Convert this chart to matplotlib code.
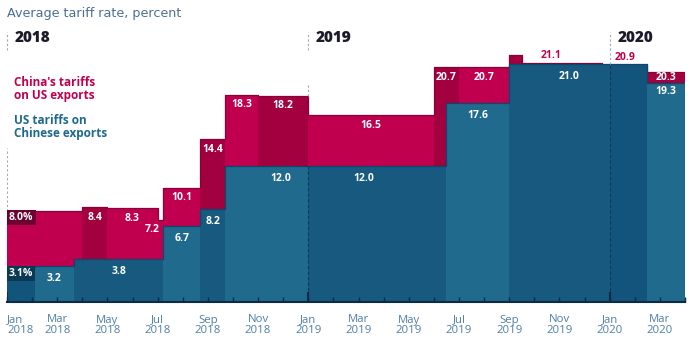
import matplotlib
matplotlib.use('Agg')
import matplotlib.pyplot as plt

# colours
PINK = ['#c0004f', '#a2003f']
BLUE = ['#17597f', '#1f6a8d', '#13547d']
NAVY = '#0d2b45'
TICK_C = '#4f7ea9'

plt.rcParams['font.family'] = ['Open Sans', 'DejaVu Sans']

# months since Jan 2018
END = 27
tick_pos = list(range(0, 27, 2))
tick_labels = ['Jan\n2018', 'Mar\n2018', 'May\n2018', 'Jul\n2018', 'Sep\n2018', 'Nov\n2018',
               'Jan\n2019', 'Mar\n2019', 'May\n2019', 'Jul\n2019', 'Sep\n2019', 'Nov\n2019',
               'Jan\n2020', 'Mar\n2020']
years = ['2018', '2019', '2020']
year_pos = [0, 12, 24]

# China's tariffs on US exports
china_start = [0, 3, 4, 6, 6.22, 7.7, 8.7, 10, 12, 17, 18, 20, 20.5, 23.7, 25.5]
china_rate = [8.0, 8.4, 8.3, 7.2, 10.1, 14.4, 18.3, 18.2, 16.5, 20.7, 20.7, 21.8, 21.1, 20.9, 20.3]
china_tone = [0, 1, 0, 0, 0, 1, 0, 1, 0, 1, 0, 1, 1, 0, 1]
china_text = ['8.0%', '8.4', '8.3', '7.2', '10.1', '14.4', '18.3', '18.2', '16.5',
              '20.7', '20.7', '', '21.1', '20.9', '20.3']

# US tariffs on Chinese exports
us_start = [0, 1.1, 2.67, 6.22, 7.7, 8.7, 12, 17.5, 20, 24, 25.5]
us_rate = [3.1, 3.2, 3.8, 6.7, 8.2, 12.0, 12.0, 17.6, 21.0, 21.0, 19.3]
us_tone = [2, 1, 0, 1, 0, 1, 0, 1, 0, 2, 1]
us_text = ['3.1%', '3.2', '3.8', '6.7', '8.2', '12.0', '12.0', '17.6', '21.0', '', '19.3']


def widths(starts):
    return [b - a for a, b in zip(starts, starts[1:] + [END])]


fig = plt.figure(figsize=(6.95, 3.45), dpi=100)
ax = fig.add_axes([7 / 695, 1 - 302 / 345, 678 / 695, 274 / 345])
ax.set_xlim(0, END)
ax.set_ylim(0, 24.18)

cw = widths(china_start)
uw = widths(us_start)
ax.bar(china_start, china_rate, width=cw, align='edge',
       color=[PINK[t] for t in china_tone], linewidth=0, zorder=1)
ax.bar(us_start, us_rate, width=uw, align='edge',
       color=[BLUE[t] for t in us_tone], linewidth=0, zorder=1.2)
ax.step(china_start + [END], china_rate + [china_rate[-1]], where='post',
        color='#8a0038', lw=0.9, zorder=1.1)
ax.step(us_start + [END], us_rate + [us_rate[-1]], where='post',
        color='#0e476b', lw=0.9, zorder=1.3)

# year separators
dash = (0, (2, 2))
for x in year_pos:
    ax.plot([x, x], [22.2, 23.8], ls=dash, color='#9aa9b8', lw=0.8, clip_on=False)
ax.plot([0, 0], [8.0, 13.6], ls=dash, color='#9aa9b8', lw=0.8)
ax.plot([12, 12], [18.2, 19.3], ls=dash, color='#9aa9b8', lw=0.8)
ax.plot([24, 24], [21.0, 22.2], ls=dash, color='#8fb2cc', lw=0.8)
ax.plot([12, 12], [0, 12], ls=(0, (3, 2)), color='#0b3350', lw=0.8, alpha=0.8, zorder=1.4)
ax.plot([24, 24], [0, 21], ls=(0, (3, 2)), color='#0b3350', lw=0.8, alpha=0.8, zorder=1.4)
for x, y in zip(year_pos, years):
    ax.text(x + 0.3, 23.3, y, fontsize=11, fontweight='heavy', color='#1b1b2a',
            ha='left', va='center')

# value labels
lab = dict(fontsize=7.5, fontweight='bold', ha='center', va='center', zorder=3)
for i, t in enumerate(china_text):
    if not t:
        continue
    xm = china_start[i] + cw[i] / 2
    y = china_rate[i] - 0.9
    if i == 0:
        ax.text(0.08, china_rate[i] - 0.55, t, color='white', ha='left', va='center',
                fontsize=7.5, fontweight='bold', zorder=3,
                bbox=dict(boxstyle='square,pad=0.2', fc='#6d0031', ec='none'))
        continue
    if i == 3:
        xm, y = 5.8, 6.4
    if t in ('21.1', '20.9'):
        ax.text(xm if t == '20.9' else 21.65, china_rate[i] + 0.65, t,
                color='#c0004f', **lab)
        continue
    if i == 14:
        y = china_rate[i] - 0.5
    ax.text(xm, y, t, color='white', **lab)

for i, t in enumerate(us_text):
    if not t:
        continue
    xm = us_start[i] + uw[i] / 2
    y = us_rate[i] - 1.1
    if i == 0:
        ax.text(0.08, us_rate[i] - 0.6, t, color='white', ha='left', va='center',
                fontsize=7.5, fontweight='bold', zorder=3,
                bbox=dict(boxstyle='square,pad=0.2', fc='#0a3954', ec='none'))
        continue
    if i == 5:
        xm = 10.9
    if i == 6:
        xm = 14.2
    if i == 8:
        xm = 22.4
    if i == 10:
        y = us_rate[i] - 0.7
    ax.text(xm, y, t, color='white', **lab)

# legend text
ax.text(0.28, 19.9, "China's tariffs\non US exports", color='#c0004f', fontsize=8.5,
        fontweight='bold', ha='left', va='top', linespacing=0.95)
ax.text(0.28, 16.55, "US tariffs on\nChinese exports", color='#1d6a8e', fontsize=8.5,
        fontweight='bold', ha='left', va='top', linespacing=0.95)

# axes
for s in ['top', 'right', 'left']:
    ax.spines[s].set_visible(False)
ax.spines['bottom'].set_color(NAVY)
ax.spines['bottom'].set_linewidth(1.5)
ax.set_yticks([])
ax.set_xticks(tick_pos)
ax.set_xticks(range(0, END + 1), minor=True)
ax.set_xticklabels(tick_labels, color=TICK_C, fontsize=8.2, linespacing=0.95)
ax.get_xticklabels()[0].set_ha('left')
ax.get_xticklabels()[0].set_x(-0.35)
ax.tick_params(axis='x', which='both', direction='in', length=3.5, width=1,
               color=NAVY, pad=9)
ax.vlines(year_pos, 0, 0.85, color=NAVY, lw=1.5, zorder=2)

fig.text(7 / 695, 1 - 13 / 345, 'Average tariff rate, percent', color='#4b6f94',
         fontsize=9.2, ha='left', va='center', family='DejaVu Sans')

fig.savefig('out.png', dpi=100)
